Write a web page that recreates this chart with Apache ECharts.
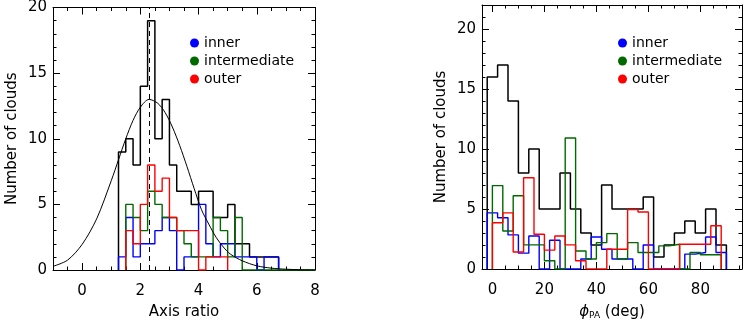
<!DOCTYPE html>
<html>
<head>
<meta charset="utf-8">
<script src="https://cdn.jsdelivr.net/npm/echarts@6/dist/echarts.min.js"></script>
<style>
  html, body { margin: 0; padding: 0; background: #fff; }
  #main { width: 747px; height: 325px; }
</style>
</head>
<body>
<div id="main"></div>
<script>
// ---- left panel: axis ratio histograms (bin width 0.25) ----
const ratioBin = 0.25;
const ratioAllStart = 1.25;
const ratioAll = [9, 10, 8, 14, 19, 10, 13, 8, 6, 6, 5, 6, 6, 4, 4, 5, 2, 2, 1, 1, 1, 1];
const ratioInnerStart = 1.25;
const ratioInner = [1, 4, 1, 2, 2, 3, 4, 3, 0, 1, 1, 5, 2, 1, 2, 2, 1, 1, 1, 0, 1, 1];
const ratioInterStart = 1.5;
const ratioInter = [5, 4, 3, 6, 5, 4, 4, 3, 2, 1, 1, 1, 4, 3, 1, 4, 0, 0, 0, 0, 0, 0, 0, 0, 0, 0];
const ratioOuterStart = 1.5;
const ratioOuter = [3, 2, 5, 8, 6, 7, 4, 3, 3, 3, 0, 1, 1, 1];
// fitted curve
const fitX = [-1, -0.5, 0, 0.5, 1, 1.25, 1.5, 1.75, 2, 2.3, 2.6, 2.85, 3.1, 3.35, 3.6, 3.85, 4.1, 4.35, 4.6, 4.85, 5.1, 5.5, 6, 6.5, 7, 7.5, 8];
const fitY = [0.28, 0.75, 1.95, 3.9, 6.8, 8.4, 10.0, 11.4, 12.4, 13.0, 12.7, 12.0, 10.9, 9.5, 7.9, 6.2, 4.6, 3.5, 2.5, 1.75, 1.2, 0.7, 0.32, 0.14, 0.06, 0.02, 0.01];
const ratioPeak = 2.3;

// ---- right panel: phi_PA histograms (bin width 4 deg) ----
const paBin = 4;
const paAllStart = -2;
const paAll = [16, 17, 14, 8, 10, 5, 5, 8, 5, 3, 2, 7, 5, 5, 5, 6, 1, 2, 3, 4, 3, 5, 2];
const paInnerStart = -2;
const paInner = [4.68, 4.27, 2.84, 1.32, 2.75, 0, 2.4, 0, 0, 0.83, 2.67, 1.65, 0.83, 0.83, 0, 2.0, 0, 0, 0, 1.24, 1.38, 2.67, 1.38];
const paInterStart = 0;
const paInter = [6.95, 3.17, 6.11, 2.01, 2.01, 0.69, 0, 10.92, 1.5, 0.83, 2.2, 2.95, 0.83, 2.2, 1.38, 1.38, 1.93, 2.06, 0, 1.38, 1.19, 1.19];
const paOuterStart = 0;
const paOuter = [3.85, 4.68, 1.42, 7.6, 2.9, 1.57, 2.75, 2.01, 0.69, 0, 0, 1.65, 1.65, 4.95, 4.75, 0, 0, 0, 2.06, 2.06, 2.06, 3.6];

// ticks
const ratioTicks = [0, 2, 4, 6, 8];
const paTicks = [0, 20, 40, 60, 80];
const countTicksL = [0, 5, 10, 15, 20];
const countTicksR = [0, 5, 10, 15, 20];

const groups = ['inner', 'intermediate', 'outer'];
const colors = { all: '#000000', inner: '#0000ff', intermediate: '#006a00', outer: '#ff0000' };
const FONT = 'DejaVu Sans';

function steps(start, width, counts) {
  const pts = [[start, 0]];
  counts.forEach(function (c, i) {
    pts.push([start + i * width, c], [start + (i + 1) * width, c]);
  });
  pts.push([start + counts.length * width, 0]);
  return pts;
}
function range(a, b, s) {
  const out = [];
  for (let v = a; v <= b + 1e-9; v += s) out.push(+v.toFixed(4));
  return out;
}

// one side of the box: major ticks (+line, labels) and minor ticks
function side(grid, min, max, major, minor, position, labels, extra) {
  const base = { type: 'value', gridIndex: grid, min: min, max: max, position: position, splitLine: { show: false } };
  const main = Object.assign({}, base, {
    axisLine: { show: true, onZero: false, lineStyle: { color: '#000', width: 1 } },
    axisTick: { show: true, inside: true, length: 7, customValues: major, lineStyle: { color: '#000' } },
    axisLabel: labels
      ? { show: true, customValues: major, color: '#000', fontSize: 15, fontFamily: FONT, margin: position === 'bottom' ? 14 : 6 }
      : { show: false }
  }, extra || {});
  const small = Object.assign({}, base, {
    axisLine: { show: false, onZero: false },
    axisTick: { show: true, inside: true, length: 3.5, customValues: minor, lineStyle: { color: '#000' } },
    axisLabel: { show: false }
  });
  return [main, small];
}

const xAxes = [].concat(
  side(0, -1, 8, ratioTicks, range(-1, 8, 0.5), 'bottom', true, {
    name: 'Axis ratio', nameLocation: 'middle', nameGap: 35,
    nameTextStyle: { color: '#000', fontSize: 15, fontFamily: FONT }
  }),
  side(0, -1, 8, ratioTicks, range(-1, 8, 0.5), 'top', false),
  side(1, -4, 96, paTicks, range(0, 95, 5), 'bottom', true, {
    name: '{phi|ϕ}{sub|PA} (deg)', nameLocation: 'middle', nameGap: 35,
    nameTextStyle: {
      color: '#000', fontSize: 15, fontFamily: FONT,
      rich: {
        phi: { fontStyle: 'italic', fontSize: 15, fontFamily: FONT, color: '#000' },
        sub: { fontSize: 9, fontFamily: FONT, color: '#000', padding: [7, 0, 0, 0] }
      }
    }
  }),
  side(1, -4, 96, paTicks, range(0, 95, 5), 'top', false)
);

const yAxes = [].concat(
  side(0, 0, 20, countTicksL, range(0, 20, 1), 'left', true, {
    name: 'Number of clouds', nameLocation: 'middle', nameGap: 33,
    nameTextStyle: { color: '#000', fontSize: 15, fontFamily: FONT }
  }),
  side(0, 0, 20, countTicksL, range(0, 20, 1), 'right', false),
  side(1, 0, 22, countTicksR, range(0, 22, 1), 'left', true, {
    name: 'Number of clouds', nameLocation: 'middle', nameGap: 33,
    nameTextStyle: { color: '#000', fontSize: 15, fontFamily: FONT }
  }),
  side(1, 0, 22, countTicksR, range(0, 22, 1), 'right', false)
);

function histSeries(name, color, data, axisIdx, width) {
  return {
    name: name, type: 'line', xAxisIndex: axisIdx, yAxisIndex: axisIdx,
    data: data, color: color, symbol: 'none', showSymbol: false, animation: false,
    lineStyle: { color: color, width: width || 1.4 }, z: 3
  };
}

const series = [
  histSeries('all', colors.all, steps(ratioAllStart, ratioBin, ratioAll), 0, 1.5),
  histSeries('inner', colors.inner, steps(ratioInnerStart, ratioBin, ratioInner), 0),
  histSeries('intermediate', colors.intermediate, steps(ratioInterStart, ratioBin, ratioInter), 0),
  histSeries('outer', colors.outer, steps(ratioOuterStart, ratioBin, ratioOuter), 0),
  {
    name: 'fit', type: 'line', xAxisIndex: 0, yAxisIndex: 0, smooth: 0.3,
    data: fitX.map(function (x, i) { return [x, fitY[i]]; }),
    symbol: 'none', animation: false, lineStyle: { color: '#000', width: 1 }, z: 4,
    markLine: {
      silent: true, symbol: 'none', animation: false, label: { show: false },
      lineStyle: { color: '#000', type: [5, 4], width: 1 },
      data: [{ xAxis: ratioPeak }]
    }
  },
  histSeries('all', colors.all, steps(paAllStart, paBin, paAll), 4, 1.5),
  histSeries('inner', colors.inner, steps(paInnerStart, paBin, paInner), 4),
  histSeries('intermediate', colors.intermediate, steps(paInterStart, paBin, paInter), 4),
  histSeries('outer', colors.outer, steps(paOuterStart, paBin, paOuter), 4)
];

function legendAt(left) {
  return {
    left: left, top: 31, orient: 'vertical', data: groups, icon: 'circle',
    itemWidth: 9, itemHeight: 9, itemGap: 4, selectedMode: false,
    textStyle: { color: '#000', fontSize: 14, fontFamily: FONT, padding: [0, 0, 0, 0] }
  };
}

const chart = echarts.init(document.getElementById('main'), null, { renderer: 'canvas' });
chart.setOption({
  backgroundColor: '#fff',
  animation: false,
  grid: [
    { left: 53, top: 5, width: 262, height: 267 },
    { left: 482, top: 5, width: 260, height: 267 }
  ],
  legend: [legendAt(185), legendAt(613)],
  xAxis: xAxes,
  yAxis: yAxes,
  series: series
});
</script>
</body>
</html>
